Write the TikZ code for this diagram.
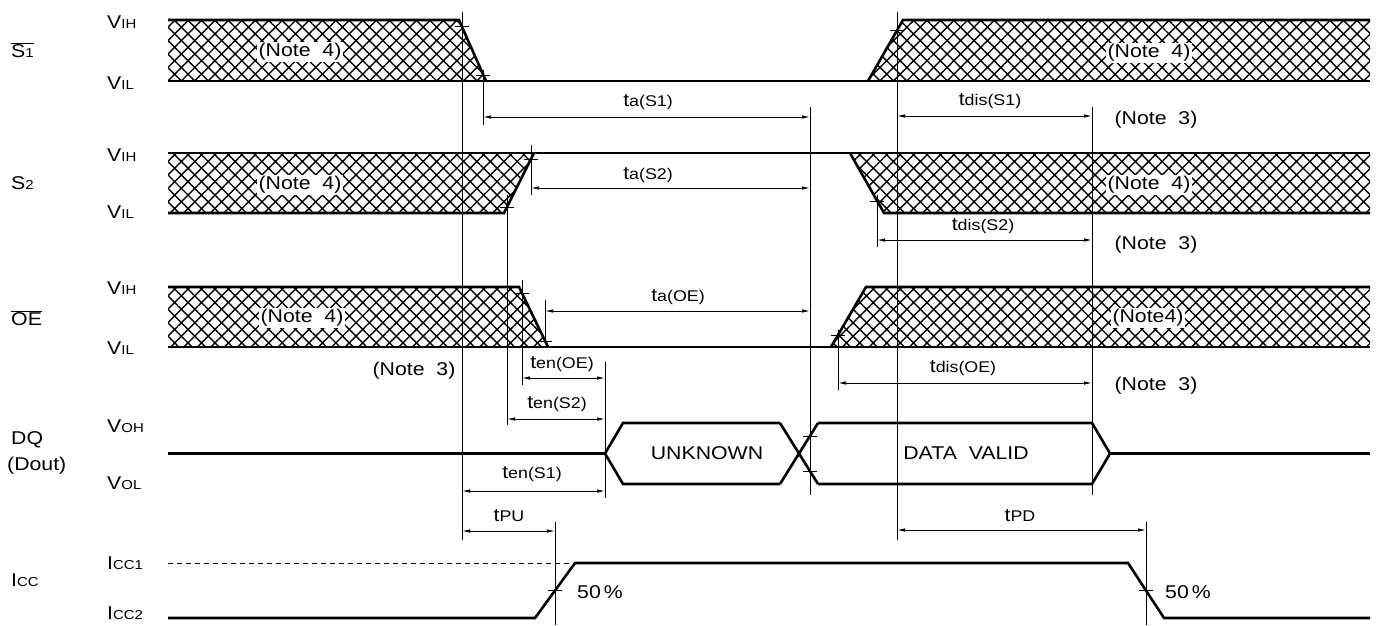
\documentclass[tikz,border=0pt]{standalone}
\usepackage{fontspec}
\setmainfont[FakeStretch=1.15]{Liberation Sans}
\usetikzlibrary{patterns.meta,arrows.meta}
\newcommand\smt[1]{{\fontsize{13}{14}\selectfont #1}}
\newcommand\tsub[1]{{\fontsize{15.5}{16}\selectfont #1}}
\begin{document}
\begin{tikzpicture}[x=1pt,y=-1pt,font=\fontsize{18.5}{21}\selectfont,
  sig/.style={line width=2.6pt,line join=miter},
  hatch/.style={pattern={Hatch[angle=45,distance=9.5pt,line width=1.4pt]}},
  refline/.style={line width=0.9pt},
  edgetick/.style={line width=0.9pt},
  dimarrow/.style={line width=0.9pt,{Latex[length=8pt,width=3.5pt]}-{Latex[length=8pt,width=3.5pt]}},
  lbl/.style={inner sep=1pt},
  notebg/.style={fill=white,inner sep=1.5pt}]
\useasboundingbox (0,0) rectangle (1378,625);
\clip (0,0) rectangle (1378,625);
% ---------- hatched regions ----------
\fill[hatch] (168,20) -- (459,20) -- (486,81) -- (168,81) -- cycle;
\fill[hatch] (868,81) -- (903,20) -- (1370,20) -- (1370,81) -- cycle;
\fill[hatch] (168,153) -- (534,153) -- (504,213) -- (168,213) -- cycle;
\fill[hatch] (850,153) -- (1370,153) -- (1370,213) -- (884,213) -- cycle;
\fill[hatch] (168,287) -- (519,287) -- (548,347) -- (168,347) -- cycle;
\fill[hatch] (831,347) -- (866,287) -- (1370,287) -- (1370,347) -- cycle;
% ---------- signal outlines ----------
\draw[sig] (168,20) -- (459,20) -- (486,81);
\draw[sig] (168,81) -- (1370,81);
\draw[sig] (868,81) -- (903,20) -- (1370,20);
\draw[sig] (168,153) -- (1370,153);
\draw[sig] (168,213) -- (504,213) -- (534,153);
\draw[sig] (850,153) -- (884,213) -- (1370,213);
\draw[sig] (168,287) -- (519,287) -- (548,347);
\draw[sig] (168,347) -- (1370,347);
\draw[sig] (831,347) -- (866,287) -- (1370,287);
% DQ
\draw[sig] (168,453.5) -- (605,453.5);
\draw[sig] (780,423) -- (623,423) -- (605,453.5) -- (623,484) -- (780,484);
\draw[sig] (780,423) -- (818,484);
\draw[sig] (780,484) -- (818,423);
\draw[sig] (818,423) -- (1092,423) -- (1110,453.5) -- (1092,484) -- (818,484);
\draw[sig] (1110,453.5) -- (1370,453.5);
% Icc
\draw[line width=0.9pt,dash pattern=on 5pt off 4pt] (168,563) -- (575,563);
\draw[sig] (168,618) -- (535,618) -- (575,563) -- (1128,563) -- (1164,618) -- (1370,618);
% ---------- reference lines ----------
\draw[refline] (462,12) -- (462,540);
\draw[refline] (483,70) -- (483,125);
\draw[refline] (531,145) -- (531,195);
\draw[refline] (507,195) -- (507,425);
\draw[refline] (522,280) -- (522,385);
\draw[refline] (545,300) -- (545,343);
\draw[refline] (605,362) -- (605,498);
\draw[refline] (810,107) -- (810,495);
\draw[refline] (897,12) -- (897,540);
\draw[refline] (877,195) -- (877,247);
\draw[refline] (838,330) -- (838,390);
\draw[refline] (1092,107) -- (1092,495);
\draw[refline] (555,522) -- (555,625);
\draw[refline] (1146,522) -- (1146,625);
% ---------- edge ticks ----------
\foreach \x/\y in {462/26, 483/75, 531/159, 507/207, 522/293, 545/341, 897/30, 877/201, 838/335, 810/436, 810/471, 555/590.5, 1146/590.5}
  \draw[edgetick] (\x-7,\y) -- (\x+7,\y);
% ---------- dimension arrows ----------
\coordinate (aS1a) at (483,117); \coordinate (aS1b) at (810,117);
\coordinate (dS1a) at (897,116); \coordinate (dS1b) at (1092,116);
\coordinate (aS2a) at (531,188); \coordinate (aS2b) at (810,188);
\coordinate (dS2a) at (877,240); \coordinate (dS2b) at (1092,240);
\coordinate (aOEa) at (545,311); \coordinate (aOEb) at (810,311);
\coordinate (dOEa) at (838,383); \coordinate (dOEb) at (1092,383);
\coordinate (eOEa) at (522,378); \coordinate (eOEb) at (605,378);
\coordinate (eS2a) at (507,419); \coordinate (eS2b) at (605,419);
\coordinate (eS1a) at (462,491); \coordinate (eS1b) at (605,491);
\coordinate (pua) at (462,531); \coordinate (pub) at (555,531);
\coordinate (pda) at (897,530); \coordinate (pdb) at (1146,530);
\draw[dimarrow] (aS1a) -- (aS1b);
\draw[dimarrow] (dS1a) -- (dS1b);
\draw[dimarrow] (aS2a) -- (aS2b);
\draw[dimarrow] (dS2a) -- (dS2b);
\draw[dimarrow] (aOEa) -- (aOEb);
\draw[dimarrow] (dOEa) -- (dOEb);
\draw[dimarrow] (eOEa) -- (eOEb);
\draw[dimarrow] (eS2a) -- (eS2b);
\draw[dimarrow] (eS1a) -- (eS1b);
\draw[dimarrow] (pua) -- (pub);
\draw[dimarrow] (pda) -- (pdb);
% ---------- timing labels ----------
\node[lbl] (taS1) at (648,102) {t\tsub{a(S1)}};
\node[lbl] (tdS1) at (990,101) {t\tsub{dis(S1)}};
\node[lbl] (taS2) at (648,175) {t\tsub{a(S2)}};
\node[lbl] (tdS2) at (983,226) {t\tsub{dis(S2)}};
\node[lbl] (taOE) at (678,297) {t\tsub{a(OE)}};
\node[lbl] (tdOE) at (963,368) {t\tsub{dis(OE)}};
\node[lbl] (teOE) at (562,364) {t\tsub{en(OE)}};
\node[lbl] (teS2) at (557,404) {t\tsub{en(S2)}};
\node[lbl] (teS1) at (532,474) {t\tsub{en(S1)}};
\node[lbl] (tPU) at (509,516) {t\tsub{PU}};
\node[lbl] (tPD) at (1020,516) {t\tsub{PD}};
\node[lbl] (p50a) at (600,592) {50\,\%};
\node[lbl] (p50b) at (1188,592) {50\,\%};
% ---------- notes ----------
\node[notebg] (n4a) at (300,52) {(Note\ \ 4)};
\node[notebg] (n4b) at (300,185) {(Note\ \ 4)};
\node[notebg] (n4c) at (302,318) {(Note\ \ 4)};
\node[notebg] (n4d) at (1149,53) {(Note\ \ 4)};
\node[notebg] (n4e) at (1149,185) {(Note\ \ 4)};
\node[notebg] (n4f) at (1148,318) {(Note4)};
\node[lbl] (n3a) at (1156,120) {(Note\ \ 3)};
\node[lbl] (n3b) at (1156,245) {(Note\ \ 3)};
\node[lbl] (n3c) at (1156,386) {(Note\ \ 3)};
\node[lbl] (n3d) at (414,371) {(Note\ \ 3)};
\node[lbl] (unk) at (707,453.5) {UNKNOWN};
\node[lbl] (dv) at (966,453.5) {DATA\ \ VALID};
% ---------- signal names and levels ----------
\node[lbl,anchor=west] (sS1) at (10,50) {$\overline{\hbox{S\smt{1}}}$};
\node[lbl,anchor=west] (sS2) at (10,183) {S\smt{2}};
\node[lbl,anchor=west] (sOE) at (10,318) {$\overline{\hbox{OE}}$};
\node[lbl,anchor=west] (sDQ) at (10,440) {DQ};
\node[lbl,anchor=west] (sDo) at (6,466) {(Dout)};
\node[lbl,anchor=west] (sIcc) at (10,580) {I\smt{CC}};
\node[lbl,anchor=west] (l1) at (106,22) {V\smt{IH}};
\node[lbl,anchor=west] (l2) at (106,83) {V\smt{IL}};
\node[lbl,anchor=west] (l3) at (106,155) {V\smt{IH}};
\node[lbl,anchor=west] (l4) at (106,212) {V\smt{IL}};
\node[lbl,anchor=west] (l5) at (106,288) {V\smt{IH}};
\node[lbl,anchor=west] (l6) at (106,348) {V\smt{IL}};
\node[lbl,anchor=west] (l7) at (106,426) {V\smt{OH}};
\node[lbl,anchor=west] (l8) at (106,483) {V\smt{OL}};
\node[lbl,anchor=west] (l9) at (106,563) {I\smt{CC1}};
\node[lbl,anchor=west] (l10) at (106,613) {I\smt{CC2}};
\end{tikzpicture}
\end{document}
